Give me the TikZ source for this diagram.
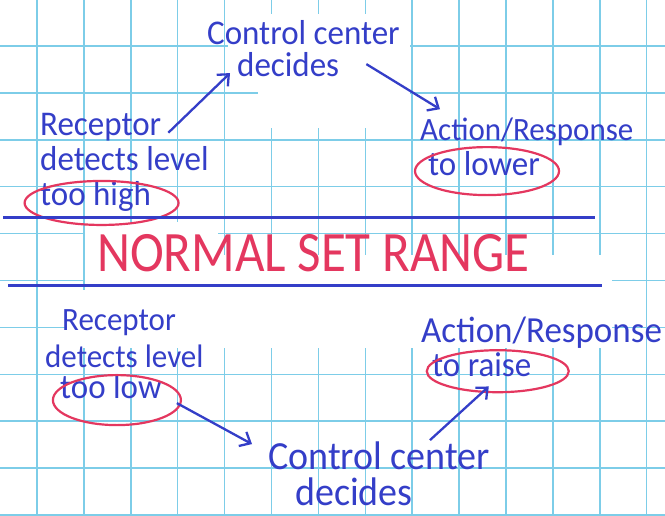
\documentclass[tikz,border=0pt]{standalone}
\usepackage{fontspec}
\setmainfont{Carlito}
\usetikzlibrary{arrows.meta}
\definecolor{gridc}{RGB}{125,205,232}
\definecolor{penblue}{RGB}{52,62,200}
\definecolor{penred}{RGB}{228,55,95}
\begin{document}
\begin{tikzpicture}[x=1pt,y=-1pt,
  gridline/.style={gridc, line width=1.5pt},
  paper/.style={fill=white, draw=none},
  hand/.style={text=penblue, inner sep=0pt, anchor=base west, yscale=1.05},
  handA/.style={hand, font=\fontsize{33}{33}\selectfont},
  handS/.style={hand, font=\fontsize{31}{31}\selectfont},
  handB/.style={hand, font=\fontsize{38}{38}\selectfont},
  handC/.style={hand, font=\fontsize{35}{35}\selectfont},
  ring/.style={draw=penred, line width=2.2pt},
  rule/.style={draw=penblue, line width=3pt},
  arr/.style={draw=penblue, line width=2.3pt, -{Straight Barb[length=9pt,width=16pt,line width=2.3pt]}},
  banner/.style={text=penred, inner sep=0pt, anchor=base west, yscale=1.12, font=\fontsize{51}{51}\selectfont}]
\useasboundingbox (0,0) rectangle (665,515);
\fill[white] (0,0) rectangle (665,515);
% graph paper
\foreach \i in {0,...,13} \draw[gridline] ({37+46.9*\i},0) -- ({37+46.9*\i},515);
\foreach \j in {0,...,10} \draw[gridline] (0,{46+46.9*\j}) -- (665,{46+46.9*\j});
% blank patches of the paper
\path[paper] (258,14) rectangle (410,128);
\path[paper] (228,14) rectangle (258,85);
\path[paper] (85,222) rectangle (218,290);
\path[paper] (218,255) rectangle (612,290);
\path[paper] (67,290) rectangle (612,348);
% upper half
\node[handA] (cc1) at (207,44) {Control center};
\node[handA] (dc1) at (237,76) {decides};
\node[handA] (rc1) at (40,135) {Receptor};
\node[handA] (dl1) at (40,170) {detects level};
\node[handA] (th) at (40,205) {too high};
\node[handS] (ar1) at (420,140) {Action/Response};
\node[handA] (tl) at (428,175) {to lower};
\draw[ring] ([shift={(6,7)}]th.center) ellipse [x radius=77pt, y radius=22pt];
\draw[ring] ([shift={(3,8)}]tl.center) ellipse [x radius=72pt, y radius=24pt];
\draw[arr] ([shift={(7,6)}]rc1.east) -- ([shift={(-7,9)}]dc1.west);
\draw[arr] ([shift={(27,0)}]dc1.east) -- ([shift={(20,-8)}]ar1.north west);
% rules and banner
\draw[rule] (3,217) coordinate (t1) -- (595,217) coordinate (t2);
\draw[rule] (8,285) coordinate (b1) -- (602,285) coordinate (b2);
\node[banner] (nsr) at (97,271) {NORMAL SET RANGE};
% lower half
\node[handS] (rc2) at (62,330) {Receptor};
\node[handS] (dl2) at (45,367) {detects level};
\node[handA] (tw) at (60,398) {too low};
\draw[ring] ([shift={(6,14)}]tw.center) ellipse [x radius=64pt, y radius=25pt];
\node[handB] (cc2) at (268,469) {Control center};
\node[handB] (dc2) at (295,505) {decides};
\node[handC] (ar2) at (421,342) {Action/Response};
\node[handA] (tr) at (432,376) {to raise};
\draw[ring] ([shift={(16,7)}]tr.center) ellipse [x radius=71pt, y radius=21pt];
\draw[arr] ([shift={(15,17)}]tw.east) -- ([shift={(-16,3)}]cc2.north west);
\draw[arr] ([shift={(162,-1)}]cc2.north west) -- ([shift={(7,10)}]tr.south);
\end{tikzpicture}
\end{document}
